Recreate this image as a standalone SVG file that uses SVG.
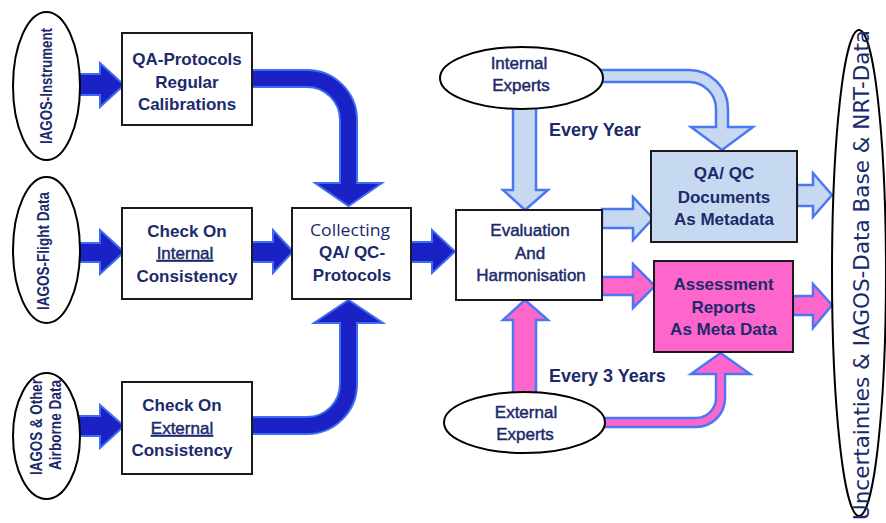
<svg xmlns="http://www.w3.org/2000/svg" width="886" height="523" viewBox="0 0 886 523">
<style>
.bg{fill:#ffffff}
.box{fill:#ffffff;stroke:#1a1a1a;stroke-width:2}
.ell{fill:#ffffff;stroke:#000000;stroke-width:2}
.blue{fill:#1a22c6;stroke:#3d6bf2;stroke-width:2;stroke-linejoin:miter}
.lblue{fill:#c6d9f0;stroke:#4a78f5;stroke-width:2.5;stroke-linejoin:miter}
.pink{fill:#ff66cc;stroke:#4a78f5;stroke-width:2.5;stroke-linejoin:miter}
text{font-family:"Liberation Sans",Arial,sans-serif;fill:#1b2a6b}
.b{font-size:17px;font-weight:bold;text-anchor:middle}
.r{font-size:17px;font-weight:normal;text-anchor:middle;stroke:#1b2a6b;stroke-width:0.45}
.lbl{font-size:18px;font-weight:bold}
.v{font-weight:bold;text-anchor:middle}
</style>
<rect class="bg" x="0" y="0" width="886" height="523"/>
<g id="connectors">
  <path class="blue" d="M76,74 H100 V63 L124,85 L100,107 V95 H76 Z"/>
  <path class="blue" d="M76,243 H100 V230 L124,252 L100,274 V262 H76 Z"/>
  <path class="blue" d="M76,416 H100 V405 L124,426 L100,448 V436 H76 Z"/>
  <path class="blue" d="M252,242 H273 V230 L293,251.5 L273,273 V262 H252 Z"/>
  <path class="blue" d="M411,242 H432 V230 L455,251.5 L432,273 V262 H411 Z"/>
  <path class="blue" d="M252,70 H307 A50,50 0 0 1 357,120 V183 H382 L348.5,206 L315,183 H340 V120 A33,33 0 0 0 307,87 H252 Z"/>
  <path class="blue" d="M252,434 H307 A50,50 0 0 0 357,384 V323 H383 L348.5,300 L314,323 H340 V384 A33,33 0 0 1 307,417 H252 Z"/>
  <path class="lblue" d="M513,104 V190 H503 L525,210 L548,190 H536 V104 Z"/>
  <path class="lblue" d="M596,70 H689 A39,39 0 0 1 728,109 V127 H753 L722,150 L691,127 H716 V109 A27,27 0 0 0 689,82 H596 Z"/>
  <path class="lblue" d="M602,209 H633 V197 L653,218.5 L633,240 V228 H602 Z"/>
  <path class="lblue" d="M797,185 H813 V173 L832,195 L813,217 V206 H797 Z"/>
  <path class="pink" d="M513,398 V320 H503 L525,300 L548,320 H536 V398 Z"/>
  <path class="pink" d="M602,277 H633 V264 L655,286 L633,308 V295 H602 Z"/>
  <path class="pink" d="M793,296 H813 V284 L832,305 L813,328 V315 H793 Z"/>
  <path class="pink" d="M598,427 H696 A29,29 0 0 0 725,398 V374 H750 L720.5,353 L691,374 H716 V398 A20,20 0 0 1 696,418 H598 Z"/>
</g>
<g id="iagos-instrument">
  <ellipse class="ell" cx="46.5" cy="86" rx="33.5" ry="74"/>
  <text class="v" font-size="16" transform="translate(52,86) rotate(-90)" textLength="116" lengthAdjust="spacingAndGlyphs">IAGOS-Instrument</text>
</g>
<g id="iagos-flight">
  <ellipse class="ell" cx="46.5" cy="250" rx="33.5" ry="73"/>
  <text class="v" font-size="16" transform="translate(49,251) rotate(-90)" textLength="118" lengthAdjust="spacingAndGlyphs">IAGOS-Flight Data</text>
</g>
<g id="iagos-other">
  <ellipse class="ell" cx="46.5" cy="436" rx="33.5" ry="63"/>
  <text class="v" font-size="16" transform="translate(41.5,427) rotate(-90)" textLength="96" lengthAdjust="spacingAndGlyphs">IAGOS &amp; Other</text>
  <text class="v" font-size="16" transform="translate(61,425) rotate(-90)" textLength="90" lengthAdjust="spacingAndGlyphs">Airborne Data</text>
</g>
<g id="qa-protocols">
  <rect class="box" x="122" y="33" width="130" height="92"/>
  <text class="b" x="187" y="65">QA-Protocols</text>
  <text class="b" x="187" y="88">Regular</text>
  <text class="b" x="187" y="110">Calibrations</text>
</g>
<g id="check-internal">
  <rect class="box" x="122" y="208" width="130" height="91"/>
  <text class="b" x="187" y="237">Check On</text>
  <text class="r" x="185" y="259" text-decoration="underline">Internal</text>
  <text class="b" x="187" y="282">Consistency</text>
</g>
<g id="check-external">
  <rect class="box" x="122" y="382" width="130" height="92"/>
  <text class="b" x="182" y="411">Check On</text>
  <text class="r" x="182" y="434" text-decoration="underline">External</text>
  <text class="b" x="182" y="456">Consistency</text>
</g>
<g id="collecting">
  <rect class="box" x="292" y="208" width="119" height="91"/>
  <text x="350" y="236" text-anchor="middle" style="font-family:'Open Sans','Noto Sans',sans-serif;font-size:16px" textLength="80" lengthAdjust="spacingAndGlyphs">Collecting</text>
  <text class="b" x="352" y="258">QA/ QC-</text>
  <text class="b" x="352" y="281">Protocols</text>
</g>
<g id="internal-experts">
  <ellipse class="ell" cx="521.5" cy="78" rx="81.5" ry="31"/>
  <text class="r" x="519" y="69">Internal</text>
  <text class="r" x="521" y="91">Experts</text>
</g>
<g id="evaluation">
  <rect class="box" x="456" y="210" width="146" height="90"/>
  <text class="r" x="530" y="236">Evaluation</text>
  <text class="r" x="530" y="259">And</text>
  <text class="r" x="531" y="281">Harmonisation</text>
</g>
<g id="external-experts">
  <ellipse class="ell" cx="524.5" cy="422.5" rx="80.5" ry="30.5"/>
  <text class="r" x="526" y="418">External</text>
  <text class="r" x="525" y="440">Experts</text>
</g>
<g id="qaqc-documents">
  <rect class="box" x="651" y="151" width="146" height="91" style="fill:#c6d9f0"/>
  <text class="b" x="724" y="179">QA/ QC</text>
  <text class="b" x="724" y="203">Documents</text>
  <text class="b" x="724" y="225">As Metadata</text>
</g>
<g id="assessment-reports">
  <rect class="box" x="654" y="261" width="139" height="91" style="fill:#ff66cc"/>
  <text class="b" x="723.5" y="290">Assessment</text>
  <text class="b" x="723.5" y="313">Reports</text>
  <text class="b" x="723.5" y="335">As Meta Data</text>
</g>
<g id="labels">
  <text class="lbl" x="549" y="135.5">Every Year</text>
  <text class="lbl" x="549" y="381.5">Every 3 Years</text>
</g>
<g id="database">
  <ellipse cx="859" cy="273" rx="27" ry="243" fill="none" stroke="#000" stroke-width="2"/>
  <text transform="translate(869,275) rotate(-90)" text-anchor="middle" style="font-family:'DejaVu Sans',Verdana,sans-serif;font-size:21px" textLength="490" lengthAdjust="spacingAndGlyphs">Uncertainties &amp; IAGOS-Data Base &amp; NRT-Data</text>
</g>
</svg>
